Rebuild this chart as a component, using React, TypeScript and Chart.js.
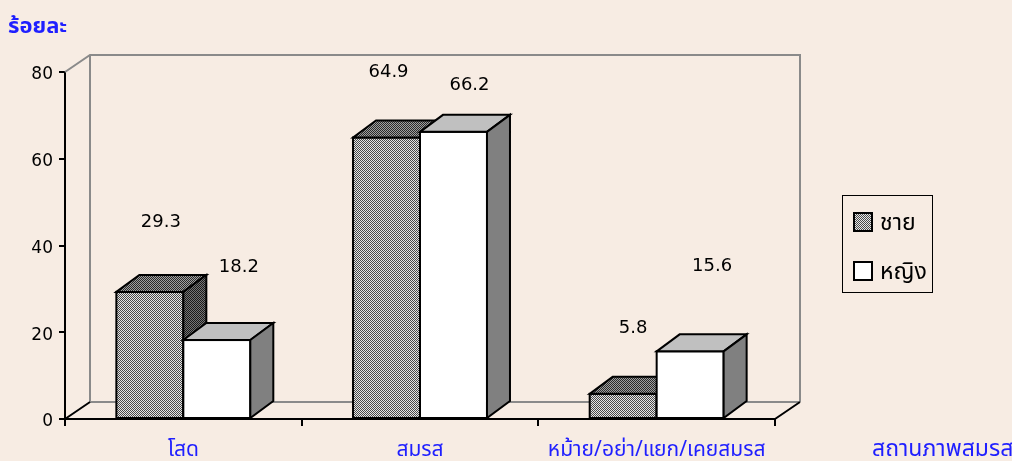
import React, { useEffect, useRef } from "react";
import { Chart, registerables } from "chart.js";

Chart.register(...registerables);

const categories = ["โสด", "สมรส", "หม้าย/อย่า/แยก/เคยสมรส"];
const seriesNames = ["ชาย", "หญิง"];
const maleValues = [29.3, 64.9, 5.8];
const femaleValues = [18.2, 66.2, 15.6];
const yTickStep = 20;
const yMax = 80;
const yTitle = "ร้อยละ";
const xTitle = "สถานภาพสมรส";

// label nudges (style): [dx, dy] from bar top-centre
const labelNudges = [
  [[11, -70], [2, -65], [10, -66]],
  [[22, -73], [16, -47], [22, -85]],
];

const BG = "#F7ECE3";
const BLUE = "#1F1FFF";
const NUM_FONT = "'DejaVu Sans', Verdana, sans-serif";
const THAI_FONT = "'Noto Sans Thai', 'Noto Sans', Tahoma, sans-serif";

function makePattern(ctx: CanvasRenderingContext2D, a: string, b: string) {
  const c = document.createElement("canvas");
  c.width = 2;
  c.height = 2;
  const p = c.getContext("2d")!;
  p.fillStyle = b;
  p.fillRect(0, 0, 2, 2);
  p.fillStyle = a;
  p.fillRect(0, 0, 1, 1);
  p.fillRect(1, 1, 1, 1);
  return ctx.createPattern(c, "repeat")!;
}

export default function App() {
  const ref = useRef<HTMLCanvasElement | null>(null);

  useEffect(() => {
    const canvas = ref.current!;
    const ctx0 = canvas.getContext("2d")!;
    const styles = [
      {
        front: makePattern(ctx0, "#4a4a4a", "#e6e6e6"),
        top: makePattern(ctx0, "#2a2a2a", "#a0a0a0"),
        side: makePattern(ctx0, "#1a1a1a", "#767676"),
      },
      { front: "#ffffff", top: "#c0c0c0", side: "#808080" },
    ];
    const DX = 25;
    const DY = -17;
    const BDX = 23;
    const BDY = -17;

    const bgPlugin = {
      id: "bg",
      beforeDraw(chart: any) {
        const c = chart.ctx;
        c.save();
        c.fillStyle = BG;
        c.fillRect(0, 0, chart.width, chart.height);
        c.restore();
      },
    };

    const wallPlugin = {
      id: "walls",
      beforeDatasetsDraw(chart: any) {
        const c = chart.ctx;
        const { left, right, top, bottom } = chart.chartArea;
        c.save();
        c.strokeStyle = "#8a8a8a";
        c.lineWidth = 2;
        c.beginPath();
        c.moveTo(left, top);
        c.lineTo(left + DX, top + DY);
        c.lineTo(right + DX, top + DY);
        c.lineTo(right + DX, bottom + DY);
        c.moveTo(left + DX, top + DY);
        c.lineTo(left + DX, bottom + DY);
        c.lineTo(right + DX, bottom + DY);
        c.stroke();
        c.strokeStyle = "#000";
        c.beginPath();
        c.moveTo(left, bottom);
        c.lineTo(left + DX, bottom + DY);
        c.moveTo(right, bottom);
        c.lineTo(right + DX, bottom + DY);
        c.stroke();
        c.restore();
      },
    };

    const barPlugin = {
      id: "bars3d",
      afterDatasetsDraw(chart: any) {
        const c = chart.ctx;
        const n = chart.data.labels.length;
        c.save();
        c.lineWidth = 2;
        c.strokeStyle = "#000";
        c.lineJoin = "miter";
        for (let i = 0; i < n; i++) {
          for (let d = 0; d < chart.data.datasets.length; d++) {
            const el = chart.getDatasetMeta(d).data[i];
            const { x, y, base, width } = el.getProps(["x", "y", "base", "width"], true);
            const l = x - width / 2;
            const r = x + width / 2;
            const st = styles[d];
            c.fillStyle = st.front;
            c.fillRect(l, y, r - l, base - y);
            c.strokeRect(l, y, r - l, base - y);
            c.beginPath();
            c.moveTo(l, y);
            c.lineTo(l + BDX, y + BDY);
            c.lineTo(r + BDX, y + BDY);
            c.lineTo(r, y);
            c.closePath();
            c.fillStyle = st.top;
            c.fill();
            c.stroke();
            c.beginPath();
            c.moveTo(r, y);
            c.lineTo(r + BDX, y + BDY);
            c.lineTo(r + BDX, base + BDY);
            c.lineTo(r, base);
            c.closePath();
            c.fillStyle = st.side;
            c.fill();
            c.stroke();
          }
        }
        c.fillStyle = "#000";
        c.font = `18px ${NUM_FONT}`;
        c.textAlign = "center";
        c.textBaseline = "middle";
        for (let d = 0; d < chart.data.datasets.length; d++) {
          const meta = chart.getDatasetMeta(d);
          meta.data.forEach((el: any, i: number) => {
            const { x, y } = el.getProps(["x", "y"], true);
            const [nx, ny] = labelNudges[d][i];
            c.fillText(String(chart.data.datasets[d].data[i]), x + nx, y + ny);
          });
        }
        c.restore();
      },
    };

    const textPlugin = {
      id: "texts",
      afterDraw(chart: any) {
        const c = chart.ctx;
        c.save();
        c.fillStyle = BLUE;
        c.textBaseline = "middle";
        c.textAlign = "left";
        c.font = `bold 22px ${THAI_FONT}`;
        c.fillText(yTitle, 8, 29);
        c.font = `23px ${THAI_FONT}`;
        c.fillText(xTitle, 872, 451);
        c.strokeStyle = "#000";
        c.lineWidth = 1;
        c.strokeRect(842.5, 195.5, 90, 97);
        const rows = [222, 271];
        seriesNames.forEach((name, d) => {
          const cy = rows[d];
          c.fillStyle = styles[d].front as any;
          c.fillRect(854, cy - 9, 18, 18);
          c.lineWidth = 2;
          c.strokeRect(854, cy - 9, 18, 18);
          c.fillStyle = "#000";
          c.font = `23px ${THAI_FONT}`;
          c.fillText(name, 880, cy + 3);
        });
        c.restore();
      },
    };

    const chart = new Chart(canvas, {
      type: "bar",
      data: {
        labels: categories,
        datasets: [
          { label: seriesNames[0], data: maleValues, backgroundColor: "rgba(0,0,0,0)", borderWidth: 0 },
          { label: seriesNames[1], data: femaleValues, backgroundColor: "rgba(0,0,0,0)", borderWidth: 0 },
        ],
      },
      options: {
        animation: false,
        responsive: false,
        devicePixelRatio: 1,
        categoryPercentage: 0.566,
        barPercentage: 1,
        layout: { padding: { left: 0, top: 72, right: 237, bottom: 0 } },
        plugins: { legend: { display: false }, tooltip: { enabled: false } },
        scales: {
          x: {
            offset: true,
            grid: { offset: true, drawOnChartArea: false, drawTicks: true, tickLength: 7, color: "#000", lineWidth: 2 },
            border: { color: "#000", width: 2 },
            ticks: { color: BLUE, font: { size: 21, family: THAI_FONT }, padding: 13, maxRotation: 0, autoSkip: false },
            afterFit: (s: any) => {
              s.height = 42;
            },
          },
          y: {
            min: 0,
            max: yMax,
            grid: { drawOnChartArea: false, drawTicks: true, tickLength: 6, color: "#000", lineWidth: 2 },
            border: { color: "#000", width: 2 },
            ticks: { stepSize: yTickStep, color: "#000", font: { size: 17, family: NUM_FONT }, padding: 6, labelOffset: 3 },
            afterFit: (s: any) => {
              s.width = 65;
            },
          },
        },
      },
      plugins: [bgPlugin, wallPlugin, barPlugin, textPlugin],
    } as any);
    return () => chart.destroy();
  }, []);

  return (
    <div style={{ position: "fixed", left: 0, top: 0, width: 1012, height: 461, background: BG }}>
      <canvas ref={ref} width={1012} height={461} style={{ display: "block" }} />
    </div>
  );
}
